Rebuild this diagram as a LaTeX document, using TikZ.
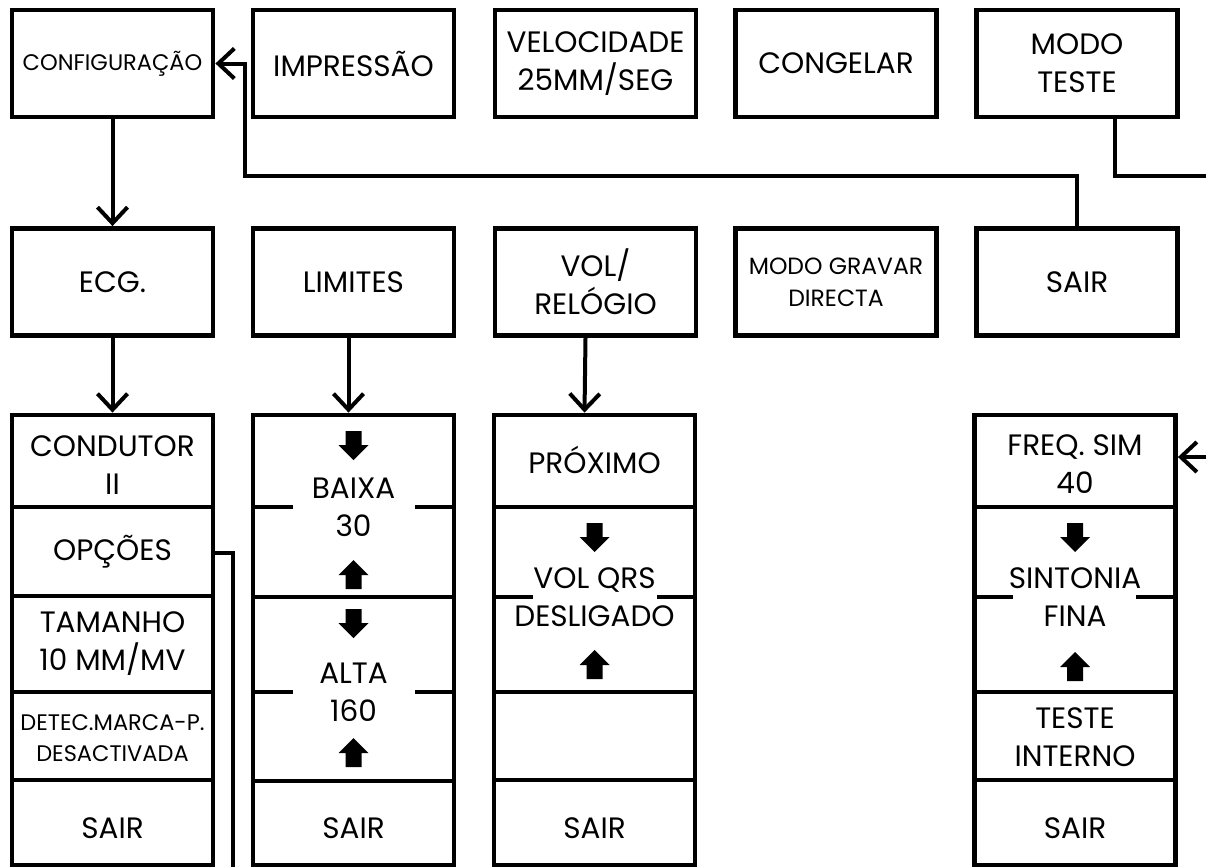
\documentclass[tikz,border=0pt]{standalone}
\usepackage{fontspec}
\setmainfont{Poppins}
\usetikzlibrary{arrows.meta}
\newcommand\mylbl{\fontsize{29.5}{38}\selectfont}
\newcommand\mysmall{\fontsize{22.5}{31}\selectfont}
\begin{document}
\begin{tikzpicture}[x=1pt,y=-1pt,
  box/.style={draw, line width=4.8pt, minimum width=201pt, minimum height=107pt, inner sep=0pt, align=center, font=\mylbl},
  col/.style={draw, line width=4.8pt, minimum width=201pt, minimum height=450pt, inner sep=0pt},
  txt/.style={inner sep=0pt, align=center, font=\mylbl},
  sm/.style={font=\mysmall},
  conn/.style={line width=4pt},
  arr/.style={conn, -{Straight Barb[length=16pt,width=30pt]}},
  div/.style={line width=4.2pt},
  dn/.pic={\fill (-8,-14) -- (8,-14) -- (8,0) -- (15,0) -- (0,15) -- (-15,0) -- (-8,0) -- cycle;},
  up/.pic={\fill (-8,14) -- (8,14) -- (8,0) -- (15,0) -- (0,-15) -- (-15,0) -- (-8,0) -- cycle;},
]
\useasboundingbox (0,0) rectangle (1206,867);
\fill[white] (0,0) rectangle (1206,867);
% top row
\node[box,sm] (cfg) at (112.5,63.5) {CONFIGURAÇÃO};
\node[box] (imp) at (353.5,63.5) {IMPRESSÃO};
\node[box] (vel) at (595.5,63.5) {VELOCIDADE\\25MM/SEG};
\node[box] (cong) at (836,63.5) {CONGELAR};
\node[box] (mt) at (1077,63.5) {MODO\\TESTE};
% middle row
\node[box] (ecg) at (112.5,282) {ECG.};
\node[box] (lim) at (353.5,282) {LIMITES};
\node[box] (vol) at (595.5,282) {VOL/\\RELÓGIO};
\node[box,font=\fontsize{23.5}{32}\selectfont] (mgd) at (836,282) {MODO GRAVAR\\DIRECTA};
\node[box] (sair) at (1077,282) {SAIR};
% columns
\node[col] (c1) at (112.5,640) {};
\node[col] (c2) at (353.5,640) {};
\node[col] (c3) at (594.5,640) {};
\node[col] (c5) at (1075,640) {};
% dividers
\draw[div] (12,507) -- (213,507) (12,596) -- (213,596) (12,692) -- (213,692) (12,780) -- (213,780);
\draw[div] (253,507) -- (293,507) (415,507) -- (454,507) (253,597) -- (454,597)
           (253,692) -- (293,692) (415,692) -- (454,692) (253,781) -- (454,781);
\draw[div] (494,507) -- (695,507) (494,597) -- (533,597) (657,597) -- (695,597)
           (494,692) -- (695,692) (494,780) -- (695,780);
\draw[div] (975,507) -- (1175,507) (975,597) -- (1013,597) (1136,597) -- (1175,597)
           (975,692) -- (1175,692) (975,780) -- (1175,780);
% column 1 texts
\node[txt] (t11) at (112.5,465) {CONDUTOR\\II};
\node[txt] (t12) at (112.5,552) {OPÇÕES};
\node[txt] (t13) at (112.5,644) {TAMANHO\\10 MM/MV};
\node[txt,sm] (t14) at (112.5,738) {DETEC.MARCA-P.\\DESACTIVADA};
\node[txt] (t15) at (112.5,828) {SAIR};
% column 2
\pic at (353.5,445) {dn};
\node[txt] (t21) at (353.5,507) {BAIXA\\30};
\pic at (353.5,575) {up};
\pic at (353.5,623) {dn};
\node[txt] (t22) at (353.5,692) {ALTA\\160};
\pic at (353.5,753) {up};
\node[txt] (t23) at (353.5,828) {SAIR};
% column 3
\node[txt] (t31) at (594.5,460) {PRÓXIMO};
\pic at (594.5,537) {dn};
\node[txt] (t32) at (594.5,597) {VOL QRS\\DESLIGADO};
\pic at (594.5,665) {up};
\node[txt] (t33) at (594.5,828) {SAIR};
% column 5
\node[txt] (t51) at (1075,464) {FREQ. SIM\\40};
\pic at (1075,537) {dn};
\node[txt] (t52) at (1075,597) {SINTONIA\\FINA};
\pic at (1075,667) {up};
\node[txt] (t53) at (1075,737) {TESTE\\INTERNO};
\node[txt] (t54) at (1075,828) {SAIR};
% connectors
\draw[arr] (cfg.south) -- (ecg.north);
\draw[arr] (ecg.south) -- (c1.north);
\draw[arr] ([xshift=-5pt]lim.south) -- ([xshift=-5pt]c2.north);
\draw[arr] ([xshift=-10pt]vol.south) -- ([xshift=-10pt]c3.north);
\coordinate (j1) at (245,176);
\draw[arr] (sair.north) |- (j1) |- (cfg.east);
\coordinate (j2) at (1206,176);
\draw[conn] ([xshift=38pt]mt.south) |- (j2);
\coordinate (j3) at (1206,457);
\draw[arr] (j3) -- (j3 -| c5.east);
\coordinate (j4) at (233,867);
\coordinate (op) at (0,553);
\draw[conn] (op -| c1.east) -| (j4);
\end{tikzpicture}
\end{document}
